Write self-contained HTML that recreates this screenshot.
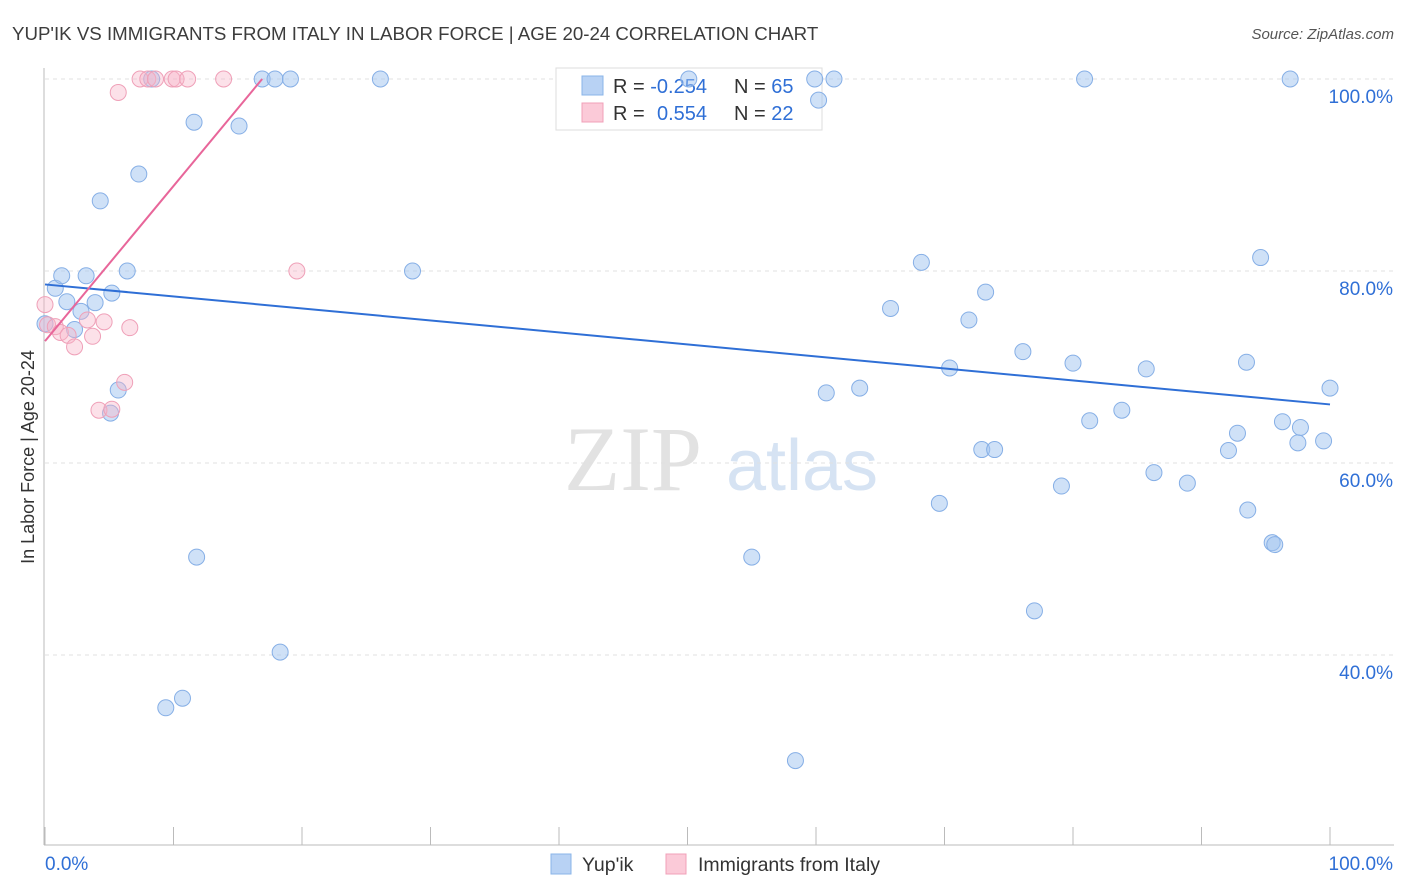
<!DOCTYPE html>
<html><head><meta charset="utf-8"><style>
body{margin:0;background:#fff;font-family:"Liberation Sans",sans-serif;}
</style></head><body>
<svg id="chart" width="1406" height="892" xmlns="http://www.w3.org/2000/svg" style="display:block">
<text x="12" y="40" font-size="18.7" fill="#3c3c3c">YUP'IK VS IMMIGRANTS FROM ITALY IN LABOR FORCE | AGE 20-24 CORRELATION CHART</text>
<text x="1394" y="39" font-size="15" fill="#555" font-style="italic" text-anchor="end">Source: ZipAtlas.com</text>
<g>
<text x="633" y="490" font-size="92" fill="#e2e2e2" font-family="Liberation Serif,serif" text-anchor="middle">ZIP</text>
<text x="802" y="490" font-size="72" fill="#d6e3f3" text-anchor="middle">atlas</text>
</g>
<g id="grid"></g>
<g>
<rect x="556" y="68" width="266" height="62" fill="#fff" stroke="#ddd"/>
<rect x="582" y="76" width="21" height="19" fill="#b8d2f4" stroke="#8ab4e8"/>
<rect x="582" y="103" width="21" height="19" fill="#fbcad8" stroke="#f0a0b8"/>
<text x="613" y="93" font-size="20" fill="#333">R = <tspan fill="#2f6fd6">-0.254</tspan></text>
<text x="734" y="93" font-size="20" fill="#333">N = <tspan fill="#2f6fd6">65</tspan></text>
<text x="613" y="120" font-size="20" fill="#333">R = <tspan fill="#2f6fd6" x="657">0.554</tspan></text>
<text x="734" y="120" font-size="20" fill="#333">N = <tspan fill="#2f6fd6">22</tspan></text>
</g>
<g id="axes"></g>
<g id="marks"></g>
<text transform="translate(34,457) rotate(-90)" font-size="18" fill="#333" text-anchor="middle">In Labor Force | Age 20-24</text>
<g>
<rect x="551" y="854" width="20" height="20" fill="#b8d2f4" stroke="#8ab4e8"/>
<text x="582" y="871" font-size="19.5" fill="#333">Yup'ik</text>
<rect x="666" y="854" width="20" height="20" fill="#fbcad8" stroke="#f0a0b8"/>
<text x="698" y="871" font-size="19.5" fill="#333">Immigrants from Italy</text>
</g>
</svg>
<script>
const blueX=[0,0.8,1.3,1.7,2.3,2.8,3.2,3.9,4.3,5.2,5.7,5.1,6.4,7.3,8.3,9.4,10.7,11.6,11.8,15.1,16.9,17.9,18.3,19.1,26.1,28.6,50.1,55.0,58.4,59.9,60.2,60.8,61.4,63.4,65.8,68.2,69.6,70.4,71.9,72.9,73.2,73.9,76.1,77.0,79.1,80.0,80.9,81.3,83.8,85.7,86.3,88.9,92.1,92.8,93.5,93.6,94.6,95.5,95.7,96.3,96.9,97.7,97.5,99.5,100];
const blueY=[74.5,78.2,79.5,76.8,73.9,75.8,79.5,76.7,87.3,77.7,67.6,65.2,80.0,90.1,100,34.5,35.5,95.5,50.2,95.1,100,100,40.3,100,100,80,100,50.2,29.0,100,97.8,67.3,100,67.8,76.1,80.9,55.8,69.9,74.9,61.4,77.8,61.4,71.6,44.6,57.6,70.4,100,64.4,65.5,69.8,59.0,57.9,61.3,63.1,70.5,55.1,81.4,51.7,51.5,64.3,100,63.7,62.1,62.3,67.8];
const pinkX=[0,0.2,0.8,1.2,1.8,2.3,3.3,3.7,4.6,4.2,5.2,6.2,5.7,6.6,7.4,8.0,8.6,9.9,10.2,11.1,13.9,19.6];
const pinkY=[76.5,74.4,74.2,73.6,73.3,72.1,74.9,73.2,74.7,65.5,65.6,68.4,98.6,74.1,100,100,100,100,100,100,100,80];
const blueTrendX=[0,100], blueTrendY=[78.6,66.1];
const pinkTrendX=[0,16.9], pinkTrendY=[72.7,100];
const yTicks=[100,80,60,40];
const yTickLabels=["100.0%","80.0%","60.0%","40.0%"];
const xTicks=[0,10,20,30,40,50,60,70,80,90,100];

const NS="http://www.w3.org/2000/svg";
const sx=v=>45+v*12.85;
const sy=v=>79+(100-v)*9.6;
function mk(tag,attrs,parent){const e=document.createElementNS(NS,tag);for(const k in attrs)e.setAttribute(k,attrs[k]);parent.appendChild(e);return e;}
const grid=document.getElementById('grid'),axes=document.getElementById('axes'),marks=document.getElementById('marks');
yTicks.forEach((t,i)=>{
  const l=mk('line',{x1:45,x2:1394,y1:sy(t),y2:sy(t),stroke:'#e0e0e0','stroke-dasharray':'4,4'},grid);
  
  
  const tx=mk('text',{x:1393,y:sy(t)+24,'font-size':19,fill:'#2f6fd6','text-anchor':'end'},axes);
  tx.textContent=yTickLabels[i];
  
  
});
const ax=mk('line',{x1:44,x2:44,y1:68,y2:845,stroke:'#bbb'},axes);


const bx=mk('line',{x1:44,x2:1394,y1:845,y2:845,stroke:'#bbb'},axes);


xTicks.forEach(t=>{
  const l=mk('line',{x1:sx(t),x2:sx(t),y1:827,y2:845,stroke:'#bbb'},axes);
  
  
});
const xl0=mk('text',{x:45,y:870,'font-size':19,fill:'#2f6fd6'},axes);xl0.textContent='0.0%';


const xl1=mk('text',{x:1393,y:870,'font-size':19,fill:'#2f6fd6','text-anchor':'end'},axes);xl1.textContent='100.0%';



blueX.forEach((v,i)=>{
  const c=mk('circle',{cx:sx(v),cy:sy(blueY[i]),r:8,fill:'rgba(160,196,240,0.5)',stroke:'#86afe6','stroke-width':1},marks);
  
  
});
pinkX.forEach((v,i)=>{
  const c=mk('circle',{cx:sx(v),cy:sy(pinkY[i]),r:8,fill:'rgba(248,180,200,0.4)',stroke:'#efa0b8','stroke-width':1},marks);
  
  
});
const bt=mk('line',{x1:sx(blueTrendX[0]),y1:sy(blueTrendY[0]),x2:sx(blueTrendX[1]),y2:sy(blueTrendY[1]),stroke:'#2f6fd6','stroke-width':2},marks);


const pt=mk('line',{x1:sx(pinkTrendX[0]),y1:sy(pinkTrendY[0]),x2:sx(pinkTrendX[1]),y2:sy(pinkTrendY[1]),stroke:'#e8669a','stroke-width':2},marks);


</script>
</body></html>
